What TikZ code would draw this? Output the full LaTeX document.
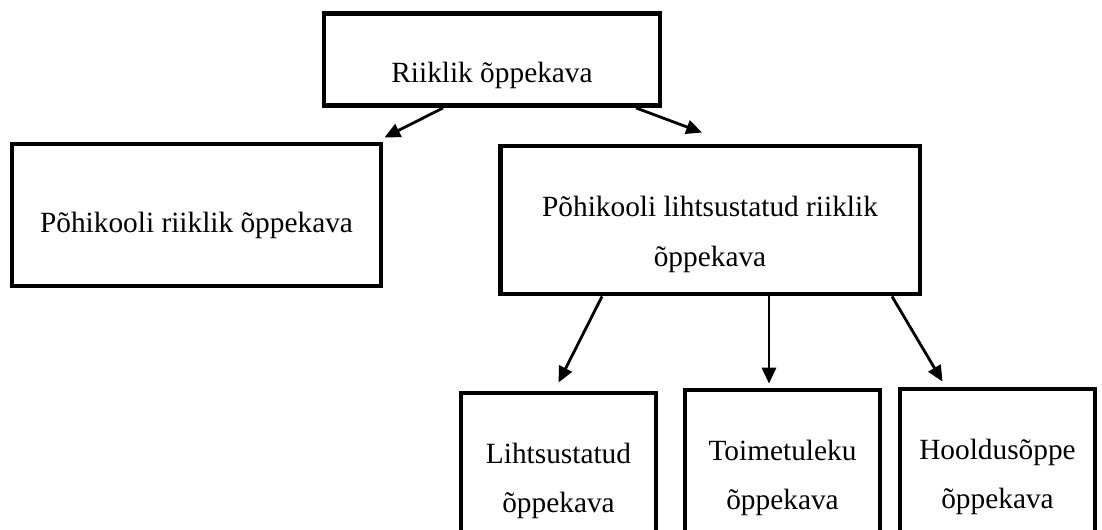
\documentclass[tikz,border=0pt]{standalone}
\usepackage{fontspec}
\setmainfont{Liberation Serif}
\usetikzlibrary{arrows.meta,calc,positioning}
\newcommand{\ylevi}[1]{\rule{0pt}{#1}}

\begin{document}
\begin{tikzpicture}[x=0.02cm,y=-0.02cm,
    kast/.style={draw,line width=2.8pt,align=center,font=\fontsize{16.7}{28.35}\selectfont},
    alam/.style={kast,minimum width=3.9cm,minimum height=3.52cm},
    nool/.style={line width=1.6pt,-{Triangle[length=9pt,width=8pt]}}]
    \useasboundingbox (0,0) rectangle (1102,530);
    \clip (0,0) rectangle (1102,530);
    \node[kast,minimum width=6.72cm,minimum height=1.84cm] (ria) at (492,59.5) {\ylevi{30pt}Riiklik õppekava};
    \node[kast,minimum width=7.38cm,minimum height=2.84cm] (prk) at (196.5,215) {\ylevi{24pt}Põhikooli riiklik õppekava};
    \node[kast,minimum width=8.4cm,minimum height=2.96cm] (plrk) at (710,220) {\ylevi{28.4pt}Põhikooli lihtsustatud riiklik\\õppekava};
    \node[alam] (lo) at (558.5,481) {Lihtsustatud\\õppekava};
    \node[alam] (to) at (782.5,478) {Toimetuleku\\õppekava};
    \node[alam] (ho) at (997.5,477) {Hooldusõppe\\õppekava};
    \draw[nool] ($(ria.south)+(-49,0)$) -- ($(prk.north east)+(1,-4)$);
    \draw[nool] ($(ria.south)+(144,0)$) -- ($(plrk.north)+(-8,-11)$);
    \draw[nool] ($(plrk.south)+(-108,0)$) -- ($(lo.north)+(0,-8)$);
    \draw[nool] ($(plrk.south)+(59,0)$) -- ($(to.north)+(-13.5,-4)$);
    \draw[nool] ($(plrk.south)+(182,0)$) -- ($(ho.north)+(-55,-5)$);
\end{tikzpicture}
\end{document}
